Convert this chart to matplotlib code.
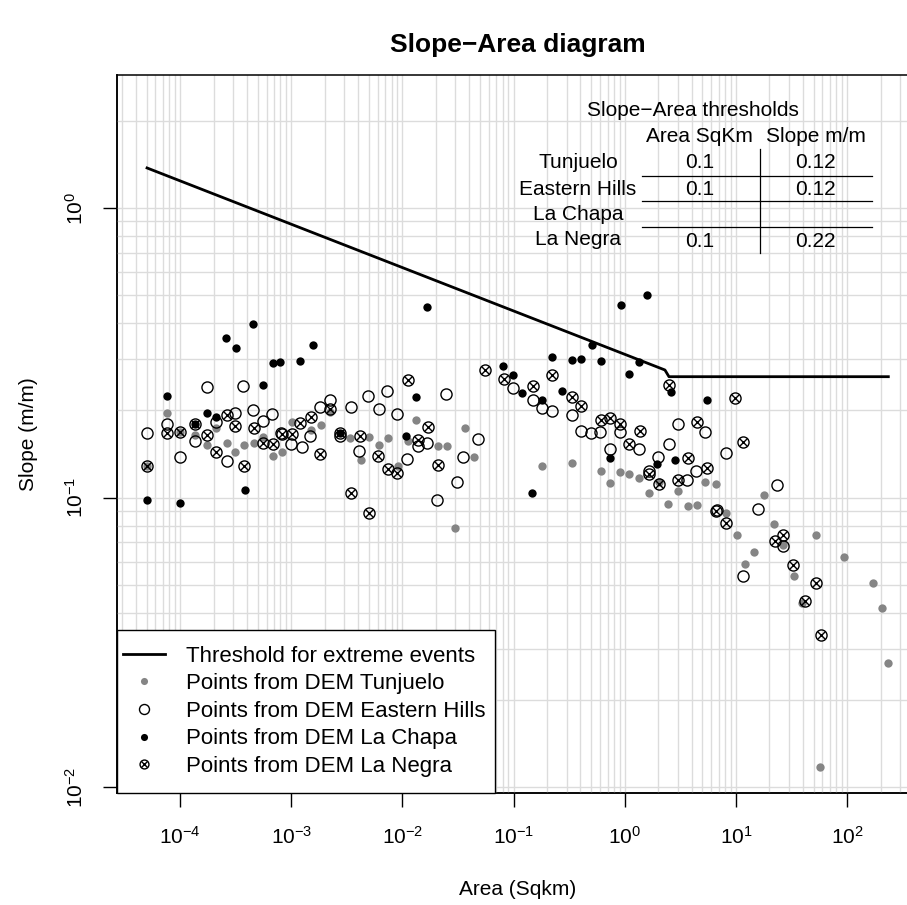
import matplotlib
matplotlib.use('Agg')
import matplotlib.pyplot as plt
import matplotlib.transforms as mtransforms
from matplotlib.lines import Line2D
from matplotlib.patches import Rectangle
from matplotlib.legend_handler import HandlerTuple
from matplotlib.ticker import LogLocator, NullFormatter, FixedLocator, FixedFormatter

# ---------------- data ----------------
tunjuelo_area = [5.0e-5, 7.6e-5, 1.0e-4, 1.37e-4, 1.76e-4, 2.11e-4, 2.63e-4, 3.14e-4, 3.76e-4, 4.63e-4,
                 5.61e-4, 6.82e-4, 8.27e-4, 1.01e-3, 1.51e-3, 1.84e-3, 2.23e-3, 3.38e-3, 4.22e-3, 5.04e-3,
                 6.12e-3, 7.43e-3, 9.14e-3, 1.12e-2, 1.33e-2, 2.1e-2, 2.5e-2, 2.99e-2, 3.68e-2, 4.41e-2,
                 0.1815, 0.334, 0.608, 0.738, 0.907, 1.10, 1.353, 1.664, 2.048, 2.467,
                 3.0, 3.73, 4.47, 5.31, 6.67, 8.15, 10.3, 12.1, 14.5, 17.9,
                 21.9, 26.7, 33.5, 39.1, 52.3, 93.9, 170, 208, 235, 57.1]
tunjuelo_slope = [0.1288, 0.196, 0.168, 0.1648, 0.1515, 0.1734, 0.1539, 0.1436, 0.1522, 0.1539,
                  0.1622, 0.139, 0.1436, 0.183, 0.171, 0.178, 0.197, 0.161, 0.1348, 0.1614,
                  0.1515, 0.160, 0.1288, 0.157, 0.1852, 0.151, 0.151, 0.0782, 0.1734, 0.1383,
                  0.128, 0.1316, 0.1238, 0.112, 0.1225, 0.1206, 0.117, 0.1036, 0.1129, 0.095,
                  0.1053, 0.0935, 0.0944, 0.1131, 0.1116, 0.0886, 0.0742, 0.0589, 0.0647, 0.1018,
                  0.0812, 0.0684, 0.0537, 0.0431, 0.0742, 0.0623, 0.0508, 0.0414, 0.0268, 0.0117]

eastern_area = [5.0e-5, 7.6e-5, 1.0e-4, 1.37e-4, 1.74e-4, 2.11e-4, 2.63e-4, 3.14e-4, 3.66e-4, 4.56e-4,
                5.54e-4, 6.72e-4, 8.05e-4, 9.96e-4, 1.24e-3, 1.49e-3, 1.83e-3, 2.22e-3, 2.75e-3, 3.43e-3,
                4.05e-3, 4.94e-3, 6.2e-3, 7.32e-3, 8.89e-3, 1.11e-2, 1.37e-2, 1.67e-2, 2.04e-2, 2.47e-2,
                3.08e-2, 3.53e-2, 4.76e-2, 0.0995, 0.149, 0.1815, 0.222, 0.334, 0.407, 0.4975,
                0.603, 0.742, 0.913, 1.353, 1.664, 2.005, 2.488, 3.017, 3.66, 4.38,
                5.31, 6.77, 8.10, 11.6, 15.7, 23.6, 26.4]
eastern_slope = [0.1667, 0.180, 0.138, 0.157, 0.241, 0.183, 0.1334, 0.196, 0.243, 0.2006,
                 0.184, 0.1938, 0.1675, 0.153, 0.1498, 0.163, 0.206, 0.217, 0.163, 0.205,
                 0.1444, 0.2242, 0.2026, 0.2328, 0.1938, 0.1358, 0.151, 0.1542, 0.0978, 0.228,
                 0.1131, 0.1377, 0.1597, 0.2394, 0.2167, 0.2038, 0.1995, 0.1932, 0.170, 0.167,
                 0.168, 0.1474, 0.168, 0.147, 0.1238, 0.1377, 0.1534, 0.180, 0.1152, 0.1238,
                 0.1684, 0.0905, 0.1425, 0.0537, 0.091, 0.1105, 0.0678]

chapa_area = [5.0e-5, 7.6e-5, 1.0e-4, 1.36e-4, 1.76e-4, 2.11e-4, 2.59e-4, 3.19e-4, 3.82e-4, 4.51e-4,
              5.61e-4, 6.82e-4, 7.93e-4, 1.21e-3, 1.58e-3, 2.75e-3, 1.08e-2, 1.32e-2, 1.66e-2, 8.09e-2,
              0.0995, 0.118, 0.1476, 0.179, 0.223, 0.273, 0.336, 0.404, 0.505, 0.612,
              0.742, 0.932, 1.093, 1.353, 1.577, 1.952, 2.61, 2.818, 5.50]
chapa_slope = [0.098, 0.225, 0.096, 0.179, 0.196, 0.189, 0.355, 0.329, 0.106, 0.397,
               0.245, 0.291, 0.293, 0.295, 0.336, 0.167, 0.163, 0.222, 0.456, 0.285,
               0.264, 0.230, 0.104, 0.217, 0.305, 0.233, 0.2985, 0.300, 0.336, 0.297,
               0.1366, 0.4636, 0.268, 0.293, 0.5005, 0.131, 0.231, 0.135, 0.218]

negra_area = [5.0e-5, 7.6e-5, 1.0e-4, 1.36e-4, 1.74e-4, 2.11e-4, 2.63e-4, 3.14e-4, 3.79e-4, 4.63e-4,
              5.54e-4, 6.82e-4, 8.27e-4, 1.01e-3, 1.21e-3, 1.51e-3, 1.83e-3, 2.23e-3, 2.75e-3, 3.43e-3,
              4.13e-3, 5.04e-3, 6.08e-3, 7.47e-3, 8.89e-3, 1.13e-2, 1.37e-2, 1.69e-2, 2.1e-2, 5.54e-2,
              8.24e-2, 0.149, 0.222, 0.334, 0.407, 0.608, 0.7375, 0.913, 1.10, 1.373,
              1.654, 2.048, 2.503, 3.035, 3.71, 4.44, 5.50, 6.63, 8.15, 9.88,
              11.5, 22.3, 26.4, 32.4, 42.1, 52.3, 58.0]
negra_slope = [0.1288, 0.1667, 0.168, 0.179, 0.1644, 0.1433, 0.1928, 0.177, 0.1284, 0.1742,
               0.1546, 0.153, 0.166, 0.1657, 0.1813, 0.190, 0.141, 0.202, 0.1667, 0.1039,
               0.163, 0.0882, 0.139, 0.1252, 0.1218, 0.254, 0.158, 0.1748, 0.1298, 0.2757,
               0.2576, 0.242, 0.2644, 0.223, 0.207, 0.1848, 0.188, 0.1794, 0.1534, 0.170,
               0.1206, 0.111, 0.2446, 0.1152, 0.1366, 0.182, 0.1267, 0.0896, 0.0818, 0.220,
               0.156, 0.0706, 0.0742, 0.0585, 0.0439, 0.0508, 0.0335]

threshold_area = [5.05e-5, 2.30, 2.50, 235]
threshold_slope = [1.375, 0.2757, 0.2614, 0.2614]

x_tick_values = [1e-4, 1e-3, 1e-2, 1e-1, 1e0, 1e1, 1e2]
x_tick_labels = ['$10^{-4}$', '$10^{-3}$', '$10^{-2}$', '$10^{-1}$', '$10^{0}$', '$10^{1}$', '$10^{2}$']
y_tick_values = [1e-2, 1e-1, 1e0]
y_tick_labels = ['$10^{-2}$', '$10^{-1}$', '$10^{0}$']

table_rows = ['Tunjuelo', 'Eastern Hills', 'La Chapa', 'La Negra']
table_area = ['0.1', '0.1', '', '0.1']
table_slope = ['0.12', '0.12', '', '0.22']

legend_labels = ['Threshold for extreme events', 'Points from DEM Tunjuelo',
                 'Points from DEM Eastern Hills', 'Points from DEM La Chapa',
                 'Points from DEM La Negra']

# ---------------- style ----------------
plt.rcParams['font.family'] = ['Liberation Sans', 'DejaVu Sans']
plt.rcParams['mathtext.fontset'] = 'custom'
plt.rcParams['mathtext.rm'] = 'Liberation Sans'
plt.rcParams['mathtext.it'] = 'Liberation Sans:italic'
plt.rcParams['mathtext.bf'] = 'Liberation Sans:bold'

W, H = 907, 905
fig = plt.figure(figsize=(W / 100, H / 100), dpi=100)
PX = mtransforms.Affine2D().scale(1 / W, -1 / H).translate(0, 1) + fig.transFigure

ax_left, ax_right, ax_top, ax_bottom = 117, 918, 75, 793
ax = fig.add_axes([ax_left / W, 1 - ax_bottom / H, (ax_right - ax_left) / W, (ax_bottom - ax_top) / H])
ax.set_xscale('log')
ax.set_yscale('log')
ax.set_xlim(10 ** -4.567, 10 ** 2.638)
ax.set_ylim(10 ** -2.0207, 10 ** 0.4594)

GRID = '#dcdcdc'
ax.xaxis.set_major_locator(LogLocator(base=10, numticks=100))
ax.yaxis.set_major_locator(LogLocator(base=10, numticks=100))
ax.xaxis.set_minor_locator(LogLocator(base=10, subs=[2, 3, 4, 5, 6, 7, 8, 9], numticks=100))
ax.yaxis.set_minor_locator(LogLocator(base=10, subs=[2, 3, 4, 5, 6, 7, 8, 9], numticks=100))
ax.xaxis.set_minor_formatter(NullFormatter())
ax.yaxis.set_minor_formatter(NullFormatter())
ax.grid(True, which='both', color=GRID, linewidth=1.0, zorder=0)
ax.set_axisbelow(True)
ax.tick_params(which='both', length=0)
for spine in ax.spines.values():
    spine.set_linewidth(1.1)
    spine.set_color('black')

sec_x = ax.secondary_xaxis('bottom')
sec_x.xaxis.set_major_locator(FixedLocator(x_tick_values))
sec_x.xaxis.set_major_formatter(FixedFormatter(x_tick_labels))
sec_x.xaxis.set_minor_locator(FixedLocator([]))
sec_x.tick_params(axis='x', length=10, width=1.0, pad=14, labelsize=15)
sec_x.spines['bottom'].set_linewidth(1.1)
sec_y = ax.secondary_yaxis('left')
sec_y.yaxis.set_major_locator(FixedLocator(y_tick_values))
sec_y.yaxis.set_major_formatter(FixedFormatter(y_tick_labels))
sec_y.yaxis.set_minor_locator(FixedLocator([]))
sec_y.tick_params(axis='y', length=10, width=1.0, pad=12, labelsize=15)
for lab in sec_y.get_yticklabels():
    lab.set_rotation(90)
    lab.set_va('center')
sec_y.spines['left'].set_linewidth(1.1)
ax.set_xticklabels([])
ax.set_yticklabels([])

# threshold
ax.plot(threshold_area, threshold_slope, color='black', linewidth=2.0, zorder=3,
        solid_joinstyle='round')

GRAY = '#858585'
MS_DOT = 6.0
MS_CIR = 8.0
MS_X = 5.6
MEW = 1.0
ax.plot(tunjuelo_area, tunjuelo_slope, 'o', color=GRAY, markersize=MS_DOT, markeredgewidth=0, zorder=4)
ax.plot(eastern_area, eastern_slope, 'o', markerfacecolor='none', markeredgecolor='black',
        markersize=MS_CIR, markeredgewidth=MEW, zorder=5)
ax.plot(chapa_area, chapa_slope, 'o', color='black', markersize=MS_DOT, markeredgewidth=0, zorder=6)
ax.plot(negra_area, negra_slope, 'o', markerfacecolor='none', markeredgecolor='black',
        markersize=MS_CIR, markeredgewidth=MEW, zorder=7)
ax.plot(negra_area, negra_slope, 'x', color='black', markersize=MS_X, markeredgewidth=MEW, zorder=7)

# legend: white box with black frame, entries on top
box = Rectangle((117, 630), 378, 163, transform=PX, facecolor='white', edgecolor='black',
                linewidth=1.0, zorder=5)
fig.add_artist(box)
h_line = Line2D([], [], color='black', linewidth=2.0)
h_t = Line2D([], [], linestyle='none', marker='o', color=GRAY, markersize=MS_DOT * 0.85, markeredgewidth=0)
h_e = Line2D([], [], linestyle='none', marker='o', markerfacecolor='none', markeredgecolor='black',
             markersize=MS_CIR * 0.9, markeredgewidth=MEW)
h_c = Line2D([], [], linestyle='none', marker='o', color='black', markersize=MS_DOT * 0.85, markeredgewidth=0)
h_n1 = Line2D([], [], linestyle='none', marker='o', markerfacecolor='none', markeredgecolor='black',
              markersize=MS_CIR * 0.8, markeredgewidth=MEW)
h_n2 = Line2D([], [], linestyle='none', marker='x', color='black', markersize=MS_X * 0.8, markeredgewidth=MEW)
leg = fig.legend([h_line, h_t, h_e, h_c, (h_n1, h_n2)], legend_labels,
                 handler_map={tuple: HandlerTuple(ndivide=1, pad=0)},
                 loc='upper left', bbox_to_anchor=(123, 645.5), bbox_transform=PX,
                 borderaxespad=0, borderpad=0, frameon=False,
                 fontsize=16, handlelength=1.9, handletextpad=0.95,
                 labelspacing=0.297)
leg.set_zorder(6)

# titles
fig.text(517.5, 45, 'Slope\u2212Area diagram', transform=PX, ha='center', va='center',
         fontsize=19, fontweight='bold')
fig.text(517.5, 889, 'Area (Sqkm)', transform=PX, ha='center', va='center', fontsize=15)
fig.text(28, 434, 'Slope (m/m)', transform=PX, ha='center', va='center', rotation=90, fontsize=15)

# threshold table
fs = 15
fig.text(692.5, 111, 'Slope\u2212Area thresholds', transform=PX, ha='center', va='center', fontsize=fs)
fig.text(699.5, 137, 'Area SqKm', transform=PX, ha='center', va='center', fontsize=fs)
fig.text(816, 137, 'Slope m/m', transform=PX, ha='center', va='center', fontsize=fs)
row_y = [162, 189.5, 214, 239.5]
for name, a, s, yy in zip(table_rows, table_area, table_slope, row_y):
    fig.text(578, yy, name, transform=PX, ha='center', va='center', fontsize=fs)
    fig.text(699.5, yy + (1.5 if name == 'La Negra' else 0), a, transform=PX, ha='center', va='center', fontsize=fs)
    fig.text(815, yy + (1.5 if name == 'La Negra' else 0), s, transform=PX, ha='center', va='center', fontsize=fs)
for yy in [176, 201, 226.7]:
    fig.add_artist(Line2D([641.7, 871.7], [yy, yy], transform=PX, color='black', linewidth=0.9))
fig.add_artist(Line2D([760, 760], [149.3, 252.7], transform=PX, color='black', linewidth=0.9))

fig.savefig('out.png', dpi=100)
